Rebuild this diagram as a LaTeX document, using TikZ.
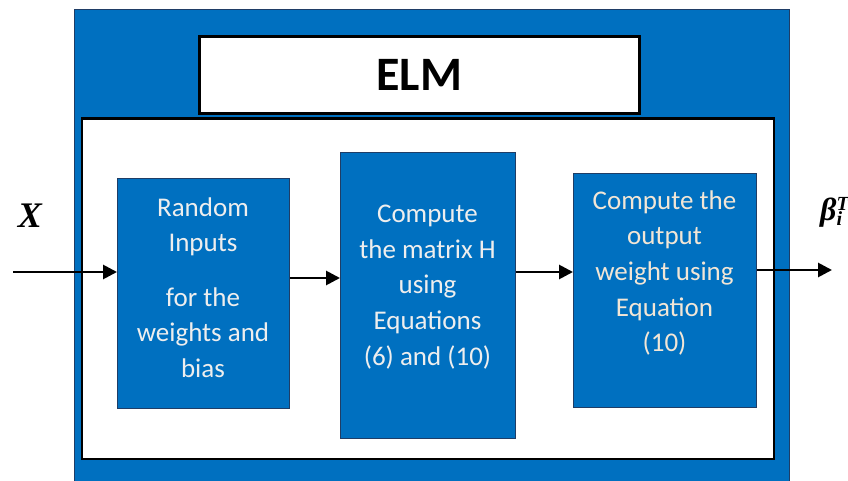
\documentclass[tikz,border=0pt]{standalone}
\usepackage{fontspec}
\setmainfont{Carlito}
\newfontfamily\symserif{Liberation Serif}
\usetikzlibrary{arrows.meta}
\definecolor{elmblue}{HTML}{0070C0}
\definecolor{elmedge}{HTML}{1F3D66}
\definecolor{txtwhite}{HTML}{EEEEEE}
\definecolor{txtbeige}{HTML}{F2E6D6}
\begin{document}
\begin{tikzpicture}[x=1pt,y=-1pt,
  bluebox/.style={draw=elmedge,line width=1.2pt,fill=elmblue,inner sep=0pt},
  blacktextbox/.style={draw=black,line width=2.6pt,fill=white,inner sep=0pt},
  blocktext/.style={text=txtwhite,align=center,font=\fontsize{27}{35.6}\selectfont,inner sep=0pt},
  flow/.style={line width=2.8pt,-{Triangle[length=14pt,width=14pt]}}]
\useasboundingbox (0,0) rectangle (848,481);
% outer blue panel
\node[bluebox,anchor=north west,minimum width=715pt,minimum height=490pt] (outer) at (74,9) {};
% title box
\node[blacktextbox,anchor=north west,minimum width=440pt,minimum height=77pt,
      font=\fontsize{48}{50}\bfseries\selectfont] (title) at (198,35.5) {ELM};
% inner white panel
\node[blacktextbox,anchor=north west,minimum width=692pt,minimum height=340pt] (inner) at (80.5,117.5) {};
% blocks
\node[bluebox,anchor=north west,minimum width=172pt,minimum height=230pt] (b1) at (117,178) {};
\node[bluebox,anchor=north west,minimum width=175pt,minimum height=286pt] (b2) at (340,152) {};
\node[bluebox,anchor=north west,minimum width=183pt,minimum height=234pt] (b3) at (573,173) {};
% block texts
\node[blocktext] (t1) at (203,287.5) {Random\\Inputs\\[19pt]for the\\weights and\\bias};
\node[blocktext] (t2) at (427.5,287) {Compute\\the matrix H\\using\\Equations\\(6) and (10)};
\node[blocktext,text=txtbeige] (t3) at (664.5,273) {Compute the\\output\\weight using\\Equation\\(10)};
% input / output labels
\node[font=\fontsize{36}{38}\symserif\bfseries\itshape,inner sep=0pt] (xin) at (30,216) {X};
\node[font=\fontsize{32}{34}\symserif\bfseries\itshape,anchor=west,inner sep=0pt] (beta) at (820,212)
  {β\rlap{\raisebox{10pt}{\fontsize{20}{21}\selectfont T}}\raisebox{-5pt}{\fontsize{20}{21}\selectfont i}};
\coordinate (xstart) at (13,272);
\coordinate (yend) at (832,270);
% connectors
\draw[flow] (xstart) -- (xstart -| b1.west);
\draw[flow] (b1.east |- 0,278) -- (b2.west |- 0,278);
\draw[flow] (b2.east |- 0,272) -- (b3.west |- 0,272);
\draw[flow] (b3.east |- yend) -- (yend);
\end{tikzpicture}
\end{document}
